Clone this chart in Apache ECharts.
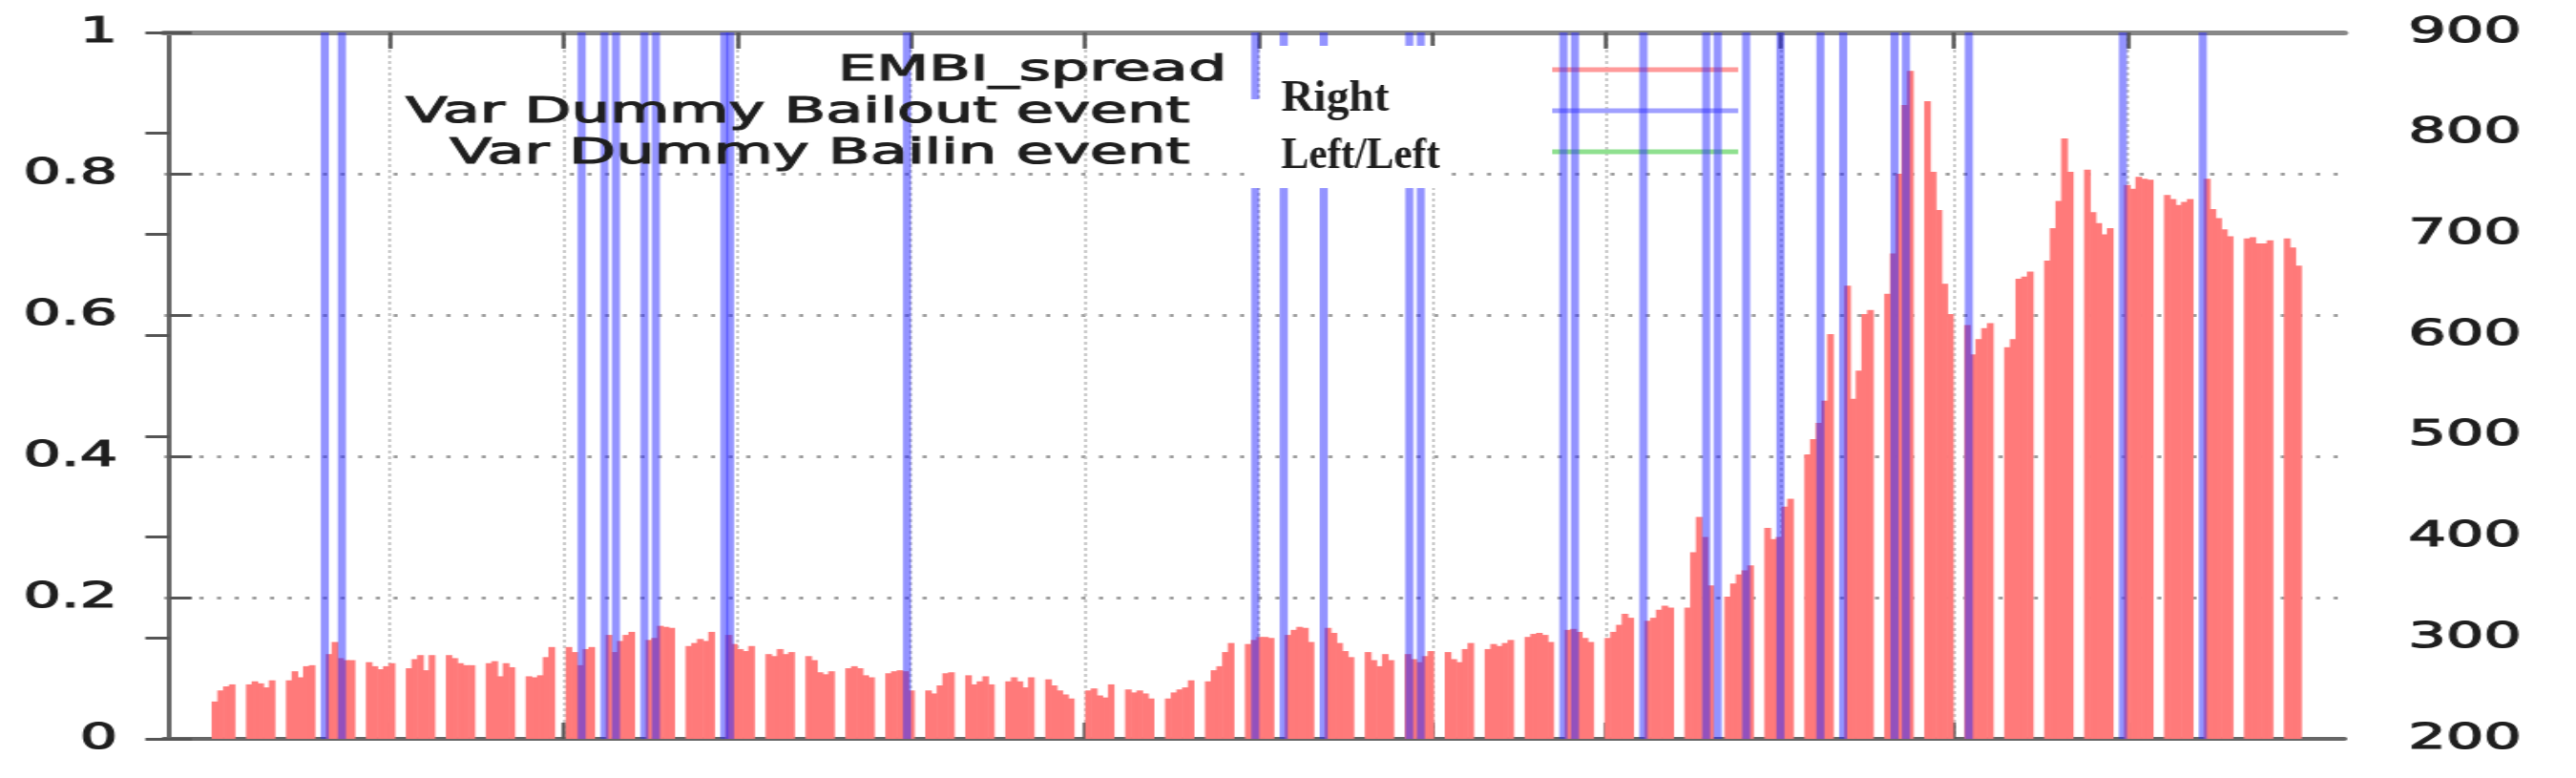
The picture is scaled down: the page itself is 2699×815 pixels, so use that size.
<!DOCTYPE html>
<html>
<head>
<meta charset="utf-8">
<script src="https://cdn.jsdelivr.net/npm/echarts@6/dist/echarts.min.js"></script>
<style>
  html, body { margin: 0; padding: 0; background: #fff; overflow: hidden; }
  /* the original figure is stretched sideways, so the chart is drawn narrow and widened */
  #chart { width: 1607px; height: 815px; transform: scaleX(1.68); transform-origin: 0 0; }
</style>
</head>
<body>
<div id="chart"></div>
<script>
// day index of the Monday of the first (partial) week
const weekStart = 7

// EMBI_spread, one list per week (Mon..Fri)
const spreadA = [
  [null, 237, 248, 252, 254],
  [254, 257, 255, 251, 258],
  [258, 267, 261, 272, 273],
  [284, 296, 280, 278, 278],
  [276, 272, 269, 272, 275],
  [270, 279, 283, 268, 283],
  [283, 280, 275, 273, 273],
  [275, 277, 262, 275, 271],
  [262, 261, 263, 281, 291],
  [291, 286, 273, 289, 291],
  [303, 286, 297, 303, 306],
  [298, 300, 312, 311, 310],
  [292, 295, 299, 297, 306]
]
const spreadB = [
  [303, 294, 289, 287, 292],
  [284, 282, 289, 284, 286],
  [282, 278, 266, 264, 267],
  [270, 272, 270, 263, 261],
  [265, 267, 268, 267, 248],
  [248, 245, 253, 265, 266],
  [263, 254, 257, 262, 254],
  [257, 261, 257, 251, 261],
  [259, 253, 248, 244, 240],
  [248, 250, 243, 241, 254],
  [249, 246, 248, 245, 240],
  [240, 246, 249, 251, 258],
  [257, 268, 272, 286, 295]
]
const spreadC = [
  [294, 298, 301, 301, 300],
  [303, 308, 311, 310, 296],
  [310, 305, 295, 287, 281],
  [286, 278, 272, 284, 278],
  [284, 279, 276, 282, 287],
  [286, 279, 276, 289, 295],
  [289, 294, 292, 295, 298],
  [301, 304, 305, 303, 296],
  [308, 309, 306, 300, 296],
  [300, 306, 313, 324, 320],
  [317, 320, 328, 332, 330],
  [330, 385, 420, 400, 352],
  [341, 354, 363, 367, 372]
]
const spreadD = [
  [409, 398, 400, 430, 438],
  [482, 497, 513, 535, 601],
  [649, 537, 565, 621, 625],
  [641, 681, 760, 828, 862],
  [832, 762, 724, 651, 621],
  [610, 581, 596, 607, 612],
  [588, 596, 656, 658, 663],
  [674, 706, 733, 795, 762],
  [764, 722, 711, 700, 706],
  [749, 745, 757, 755, 754],
  [739, 735, 729, 732, 735],
  [755, 725, 716, 705, 698],
  [696, 697, 691, 691, 694],
  [696, 687, 669]
]

// days with a bailout event (dummy = 1); the bail-in dummy never fires
const bailoutDays = [28, 31, 73, 77, 79, 84, 86, 98, 99, 130, 191, 196, 203, 218, 220,
  245, 247, 259, 270, 272, 277, 283, 290, 294, 303, 305, 316, 343, 357]
const bailinDays = []

// monthly x tics (in days)
const monthTicks = [38.6, 69.0, 99.5, 129.9, 160.4, 190.8, 221.3, 251.7, 282.2, 312.6, 343.1]

const xMin = -0.9
const xMax = 381.0

const weeks = spreadA.concat(spreadB, spreadC, spreadD)
const spreadData = []
weeks.forEach(function(week, w) {
  week.forEach(function(v, i) {
    if (v != null) spreadData.push([weekStart + 7 * w + i, v])
  })
})
const bailoutData = bailoutDays.map(function(d) { return [d, 1] })
const bailinData = bailinDays.map(function(d) { return [d, 1] })

const W = 1607
const gridLeft = 102.4
const gridRight = 145
const dayPx = (W - gridLeft - gridRight) / (xMax - xMin)

const font = 'DejaVu Sans'
const ink = '#1e1e1e'
const chart = echarts.init(document.getElementById('chart'))

chart.setOption({
  animation: false,
  backgroundColor: '#fff',
  grid: {
    left: gridLeft,
    right: gridRight,
    top: 34,
    bottom: 41,
    outerBoundsMode: 'none'
  },
  xAxis: [
    {
      type: 'value',
      min: xMin,
      max: xMax,
      position: 'bottom',
      axisLine: { show: true, onZero: false, lineStyle: { color: '#666', width: 4 } },
      axisTick: { show: true, inside: true, length: 17, customValues: monthTicks, lineStyle: { color: '#555', width: 2.5 } },
      axisLabel: { show: false },
      splitLine: { show: true, lineStyle: { color: '#bbb', width: 1.5, type: [3, 3] } }
    },
    {
      type: 'value',
      min: xMin,
      max: xMax,
      position: 'top',
      axisLine: { show: true, onZero: false, lineStyle: { color: '#888', width: 5 } },
      axisTick: { show: true, inside: true, length: 17, customValues: monthTicks, lineStyle: { color: '#555', width: 2.5 } },
      axisLabel: { show: false },
      splitLine: { show: false }
    }
  ],
  yAxis: [
    {
      type: 'value',
      min: 0,
      max: 1,
      interval: 0.2,
      position: 'left',
      axisLine: { show: true, lineStyle: { color: '#666', width: 3 } },
      axisTick: { show: true, inside: true, length: 14, lineStyle: { color: '#555', width: 3 } },
      axisLabel: { margin: 29, color: ink, fontFamily: font, fontSize: 37, textBorderColor: ink, textBorderWidth: 1.2 },
      splitLine: { show: true, lineStyle: { color: '#9a9a9a', width: 3, type: [2.5, 8.5] } }
    },
    {
      type: 'value',
      min: 200,
      max: 900,
      interval: 100,
      position: 'right',
      axisLine: { show: true, lineStyle: { color: '#666', width: 3 } },
      axisTick: { show: true, inside: true, length: 15, lineStyle: { color: '#555', width: 3 } },
      axisLabel: { margin: 40, color: ink, fontFamily: font, fontSize: 37, textBorderColor: ink, textBorderWidth: 1.2 },
      splitLine: { show: false }
    }
  ],
  series: [
    {
      name: 'EMBI_spread',
      type: 'bar',
      xAxisIndex: 0,
      yAxisIndex: 1,
      clip: true,
      barWidth: dayPx + 0.6,
      itemStyle: { color: '#ff7a7a' },
      data: spreadData
    },
    {
      name: 'Var Dummy Bailout event',
      type: 'bar',
      xAxisIndex: 1,
      yAxisIndex: 0,
      clip: true,
      barWidth: 5,
      itemStyle: { color: 'rgba(40, 40, 255, 0.5)' },
      data: bailoutData
    },
    {
      name: 'Var Dummy Bailin event',
      type: 'bar',
      xAxisIndex: 1,
      yAxisIndex: 0,
      clip: true,
      barWidth: 5,
      itemStyle: { color: 'rgba(0, 200, 0, 0.5)' },
      data: bailinData
    }
  ],
  graphic: [
    // key samples
    { type: 'line', z: 1, shape: { x1: 968, y1: 73, x2: 1084, y2: 73 }, style: { stroke: '#ff9a9a', lineWidth: 5 } },
    { type: 'line', z: 1, shape: { x1: 968, y1: 116, x2: 1084, y2: 116 }, style: { stroke: '#a0a0ff', lineWidth: 5 } },
    { type: 'line', z: 1, shape: { x1: 968, y1: 159, x2: 1084, y2: 159 }, style: { stroke: '#8fe08f', lineWidth: 5 } },
    // white boxes behind the axis notes
    { type: 'rect', z: 100, shape: { x: 790, y: 48, width: 108, height: 60 }, style: { fill: '#fff' } },
    { type: 'rect', z: 100, shape: { x: 780, y: 104, width: 120, height: 93 }, style: { fill: '#fff' } },
    // key texts
    { type: 'text', z: 101, style: { text: 'EMBI_spread', x: 765, y: 74, align: 'right', verticalAlign: 'middle', font: '38px "DejaVu Sans"', fill: ink, stroke: ink, lineWidth: 1.2 } },
    { type: 'text', z: 101, style: { text: 'Var Dummy Bailout event', x: 742, y: 118, align: 'right', verticalAlign: 'middle', font: '38px "DejaVu Sans"', fill: ink, stroke: ink, lineWidth: 1.2 } },
    { type: 'text', z: 101, style: { text: 'Var Dummy Bailin event', x: 742, y: 161, align: 'right', verticalAlign: 'middle', font: '38px "DejaVu Sans"', fill: ink, stroke: ink, lineWidth: 1.2 } },
    { type: 'text', z: 101, x: 799, y: 104, scaleX: 0.6, style: { text: 'Right', x: 0, y: 0, align: 'left', verticalAlign: 'middle', font: 'bold 47px "Liberation Serif"', fill: ink } },
    { type: 'text', z: 101, x: 799, y: 164, scaleX: 0.55, style: { text: 'Left/Left', x: 0, y: 0, align: 'left', verticalAlign: 'middle', font: 'bold 47px "Liberation Serif"', fill: ink } }
  ]
})
</script>
</body>
</html>
